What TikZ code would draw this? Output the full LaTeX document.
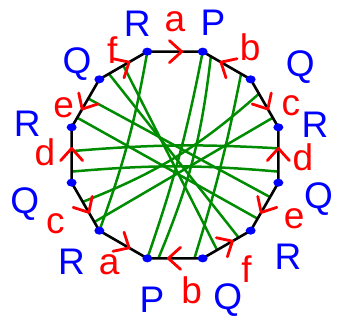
\documentclass[tikz,border=0pt]{standalone}
\usepackage{fontspec}
\setmainfont{Liberation Sans}
\usetikzlibrary{calc, shapes.geometric}

\begin{document}
\begin{tikzpicture}[x=1pt, y=1pt,
    side/.style={black, line width=2.6pt, line join=round},
    vdot/.style={ellipse, fill=blue, inner sep=0pt, minimum width=10pt, minimum height=8pt},
    vlab/.style={text=blue, font=\fontsize{37}{37}\selectfont, inner sep=0pt},
    elab/.style={text=red, font=\fontsize{37}{37}\selectfont, inner sep=0pt},
    curve/.style={green!55!black, line width=2.5pt},
    chev/.style={red, line width=2.8pt, line cap=round, line join=round}
]
\useasboundingbox (0,0) rectangle (342,327);
\begin{scope}[shift={(175,172)}]

% corners of the 12-gon
\foreach \k in {0,...,11}
  \coordinate (v\k) at ({105-30*\k}:107);

% crossing points of the curves on the sides
\coordinate (fl1) at ($(v11)!0.2!(v0)$);
\coordinate (fl2) at ($(v11)!0.5!(v0)$);
\coordinate (el1) at ($(v10)!0.2!(v11)$);
\coordinate (el2) at ($(v10)!0.6!(v11)$);
\coordinate (dl1) at ($(v9)!0.2!(v10)$);
\coordinate (dl2) at ($(v9)!0.57!(v10)$);
\coordinate (cl1) at ($(v8)!0.18!(v9)$);
\coordinate (cl2) at ($(v8)!0.6!(v9)$);
\coordinate (bt1) at ($(v1)!0.17!(v2)$);
\coordinate (bt2) at ($(v1)!0.8!(v2)$);
\coordinate (cr1) at ($(v2)!0.3!(v3)$);
\coordinate (cr2) at ($(v2)!0.8!(v3)$);
\coordinate (dr1) at ($(v3)!0.38!(v4)$);
\coordinate (dr2) at ($(v3)!0.8!(v4)$);
\coordinate (er1) at ($(v4)!0.3!(v5)$);
\coordinate (er2) at ($(v4)!0.75!(v5)$);
\coordinate (fr1) at ($(v5)!0.25!(v6)$);
\coordinate (fr2) at ($(v5)!0.7!(v6)$);
\coordinate (bb1) at ($(v6)!0.15!(v7)$);
\coordinate (bb2) at ($(v6)!0.8!(v7)$);

% green curves
\draw[curve] (v0) to[bend left=5] (v8);
\draw[curve] (v1) to[bend left=4] (v7);
\draw[curve] (bt1) to[bend left=8] (bb2);
\draw[curve] (bt2) to[bend left=3] (bb1);
\draw[curve] (fl2) -- (fr2);
\draw[curve] (fl1) -- (fr1);
\draw[curve] (el2) -- (er1);
\draw[curve] (el1) -- (er2);
\draw[curve] (dl2) to[bend left=4] (dr1);
\draw[curve] (dl1) to[bend left=5] (dr2);
\draw[curve] (cl2) to[bend right=10] (cr1);
\draw[curve] (cl1) -- (cr2);

% sides
\draw[side] (v0) \foreach \k in {1,...,11} {-- (v\k)} -- cycle;

% arrows on the sides
\foreach \s/\t in {0/1, 2/1, 2/3, 4/3, 4/5, 6/5, 6/7, 8/7, 9/8, 9/10, 11/10, 11/0} {
  \coordinate (tip) at ($(v\s)!0.62!(v\t)$);
  \coordinate (back) at ($(v\s)!0.4!(v\t)$);
  \draw[chev] ($(back)!11pt!90:(tip)$) -- (tip) -- ($(back)!11pt!-90:(tip)$);
}

% corners
\foreach \k in {0,...,11}
  \node[vdot] (d\k) at (v\k) {};

% corner labels
\foreach \k/\a/\r/\t in {0/106/137/R, 1/74/138/P, 2/35/153/Q, 3/12/143/R,
    4/-17/150/Q, 5/-42/152/R, 6/-70/154/Q, 7/-99/147/P,
    8/-134/149/R, 9/-162/158/Q, 10/168/151/R, 11/137/134/Q}
  \node[vlab] (n\k) at (\a:\r) {\t};

% side labels
\foreach \k/\a/\r/\t in {0/90/133/a, 1/55/131/b, 2/23/126/c, 3/-1/128/d,
    4/-28/135/e, 5/-58/135/f, 6/-83/136/b, 7/-121/128/a,
    8/-150/138/c, 9/179/130/d, 10/157/121/e, 11/121/122/f}
  \node[elab] (s\k) at (\a:\r) {\t};

\end{scope}
\end{tikzpicture}
\end{document}
